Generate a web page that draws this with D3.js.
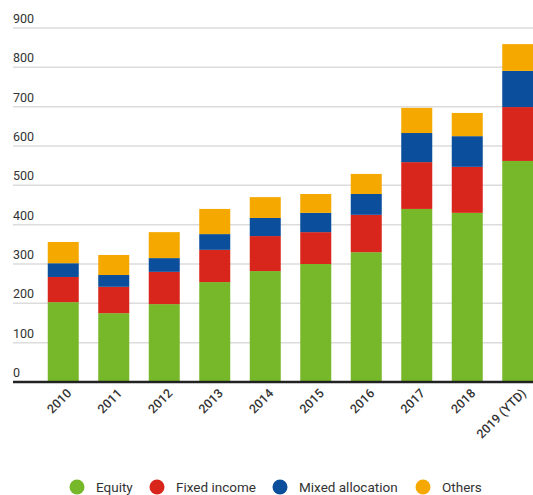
<!DOCTYPE html>
<html>
<head>
<meta charset="utf-8">
<script src="https://cdn.jsdelivr.net/npm/d3@7.9.0/dist/d3.min.js"></script>
<style>
  body { margin: 0; background: #fff; }
  svg { display: block; font-family: Roboto, "Noto Sans", sans-serif; }
</style>
</head>
<body>
<svg id="chart" width="533" height="495"></svg>
<script>
// chart data
const years = ['2010', '2011', '2012', '2013', '2014', '2015', '2016', '2017', '2018', '2019 (YTD)'];
const equity = [203, 175, 198, 254, 282, 300, 330, 440, 430, 562];
const fixedIncome = [64, 67, 82, 82, 89, 81, 95, 119, 117, 137];
const mixedAllocation = [35, 30, 35, 40, 46, 49, 53, 74, 78, 92];
const others = [54, 51, 66, 64, 53, 48, 51, 64, 59, 68];
const seriesNames = ['Equity', 'Fixed income', 'Mixed allocation', 'Others'];
const yTicks = [0, 100, 200, 300, 400, 500, 600, 700, 800, 900];

const colors = ['#76b82a', '#d9261c', '#0b4f9c', '#f5a800'];

const svg = d3.select('#chart');

// build rows for stacking
const rows = years.map((y, i) => ({
    year: y,
    'Equity': equity[i],
    'Fixed income': fixedIncome[i],
    'Mixed allocation': mixedAllocation[i],
    'Others': others[i]
}));
const stacked = d3.stack().keys(seriesNames)(rows);

const x = d3.scaleBand()
    .domain(years)
    .range([38, 543])
    .paddingInner(0.386)
    .paddingOuter(0.193);

const y = d3.scaleLinear().domain([0, 900]).range([382, 28]);

// gridlines + labels
const grid = svg.append('g');
yTicks.forEach(t => {
    if (t > 0) {
        grid.append('line')
            .attr('x1', 13).attr('x2', 533)
            .attr('y1', y(t)).attr('y2', y(t))
            .attr('stroke', '#dcdcdc')
            .attr('stroke-width', 1.5);
    }
    grid.append('text')
        .attr('x', 13)
        .attr('y', y(t) - 5)
        .attr('font-size', 12.5)
        .attr('fill', '#333')
        .text(t);
});

// bars
svg.append('g')
    .selectAll('g')
    .data(stacked)
    .join('g')
    .attr('fill', (d, i) => colors[i])
    .selectAll('rect')
    .data(d => d)
    .join('rect')
    .attr('x', d => x(d.data.year))
    .attr('width', x.bandwidth())
    .attr('y', d => y(d[1]))
    .attr('height', d => y(d[0]) - y(d[1]));

// baseline
svg.append('line')
    .attr('x1', 13).attr('x2', 533)
    .attr('y1', y(0)).attr('y2', y(0))
    .attr('stroke', '#222')
    .attr('stroke-width', 2.5);

// x labels, rotated
svg.append('g')
    .selectAll('text')
    .data(years)
    .join('text')
    .attr('transform', d => `translate(${x(d) + x.bandwidth() / 2 + 6},${y(0) + 9}) rotate(-45)`)
    .attr('text-anchor', 'end')
    .attr('dy', '0.35em')
    .attr('font-size', 12.5)
    .attr('font-weight', 500)
    .attr('fill', '#333')
    .text(d => d);

// legend
const legendX = [77, 157, 280, 423];
const legend = svg.append('g');
seriesNames.forEach((name, i) => {
    legend.append('circle')
        .attr('cx', legendX[i])
        .attr('cy', 487)
        .attr('r', 7.5)
        .attr('fill', colors[i]);
    legend.append('text')
        .attr('x', legendX[i] + 19)
        .attr('y', 487)
        .attr('dy', '0.35em')
        .attr('font-size', 13.5)
        .attr('fill', '#333')
        .text(name);
});
</script>
</body>
</html>
